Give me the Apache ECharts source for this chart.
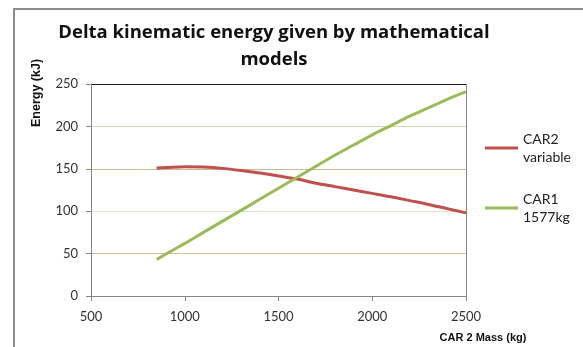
<!DOCTYPE html>
<html><head><meta charset="utf-8">
<script src="https://cdn.jsdelivr.net/npm/echarts@6/dist/echarts.min.js"></script>
<style>html,body{margin:0;padding:0;background:#fff}#c{width:583px;height:347px}</style>
</head><body><div id="c"></div>
<script>
const titleLines = ['Delta kinematic energy given by mathematical', 'models'];
const xAxisName = 'CAR 2 Mass (kg)';
const yAxisName = 'Energy (kJ)';
const seriesNames = ['CAR2\nvariable', 'CAR1\n1577kg'];
const mass = [850, 900, 1000, 1100, 1200, 1300, 1400, 1500, 1600, 1700, 1800, 1900, 2000, 2100, 2200, 2300, 2400, 2500];
const car2 = [151, 151.5, 152.5, 152, 150.5, 148, 145, 141.5, 138, 133, 129, 125, 121, 117, 112.5, 108, 103, 98];
const car1 = [43, 49.5, 62, 75, 88, 101, 114, 127, 140, 153, 166, 178, 190, 201, 212, 222, 232, 241];

const chart = echarts.init(document.getElementById('c'));
const pairs = (ys) => mass.map((m, i) => [m, ys[i]]);
const FONT = 'Lato';
chart.setOption({
  animation: false,
  grid: { left: 91, right: 117, top: 84, bottom: 51 },
  xAxis: {
    type: 'value', min: 500, max: 2500, interval: 500,
    axisLine: { lineStyle: { color: '#868686', width: 1 } },
    axisTick: { show: true, length: 5, lineStyle: { color: '#868686' } },
    axisLabel: { margin: 14, fontFamily: FONT, fontSize: 13, color: '#333', formatter: (v) => String(v) },
    splitLine: { show: true, lineStyle: { color: ['rgba(0,0,0,0)', 'rgba(0,0,0,0)', 'rgba(0,0,0,0)', 'rgba(0,0,0,0)', '#868686'], width: 1 } }
  },
  yAxis: {
    type: 'value', min: 0, max: 250, interval: 50,
    axisLine: { show: true, lineStyle: { color: '#868686', width: 1 } },
    axisTick: { show: true, length: 5, lineStyle: { color: '#868686' } },
    axisLabel: { margin: 13, fontFamily: FONT, fontSize: 13, color: '#333', formatter: (v) => String(v) },
    splitLine: { show: true, lineStyle: { color: ['rgba(0,0,0,0)', '#cdbf95', '#e3dfd0', '#c9bb8a', '#ddd5b8', '#1a1a1a'], width: 1 } }
  },
  legend: {
    orient: 'vertical', left: 480, top: 116, itemGap: 6,
    itemWidth: 33, itemHeight: 3, icon: 'rect',
    textStyle: { fontFamily: FONT, fontSize: 14, lineHeight: 18, padding: [18, 0, 0, 0], color: '#222' },
    data: seriesNames
  },
  series: [
    { name: seriesNames[0], type: 'line', data: pairs(car2), showSymbol: false, smooth: 0.3,
      lineStyle: { color: '#c0504d', width: 3 }, itemStyle: { color: '#c0504d' } },
    { name: seriesNames[1], type: 'line', data: pairs(car1), showSymbol: false, smooth: 0.3,
      lineStyle: { color: '#9bbb59', width: 3 }, itemStyle: { color: '#9bbb59' } }
  ],
  graphic: [
    { type: 'rect', shape: { x: 14, y: 9, width: 620, height: 400 }, style: { fill: 'none', stroke: '#8c8c8c', lineWidth: 2 }, silent: true },
    { type: 'text', x: 274, y: 33, style: { text: titleLines[0], font: 'bold 18.5px "Open Sans"', fill: '#111', textAlign: 'center', textVerticalAlign: 'middle' } },
    { type: 'text', x: 274, y: 60, style: { text: titleLines[1], font: 'bold 18.5px "Open Sans"', fill: '#111', textAlign: 'center', textVerticalAlign: 'middle' } },
    { type: 'text', x: 483, y: 338, style: { text: xAxisName, font: 'bold 11px "Liberation Sans"', fill: '#111', textAlign: 'center', textVerticalAlign: 'middle' } },
    { type: 'text', x: 37, y: 93, rotation: Math.PI / 2, style: { text: yAxisName, font: 'bold 12.5px "Liberation Sans"', fill: '#111', textAlign: 'center', textVerticalAlign: 'middle' } }
  ]
});
</script></body></html>
